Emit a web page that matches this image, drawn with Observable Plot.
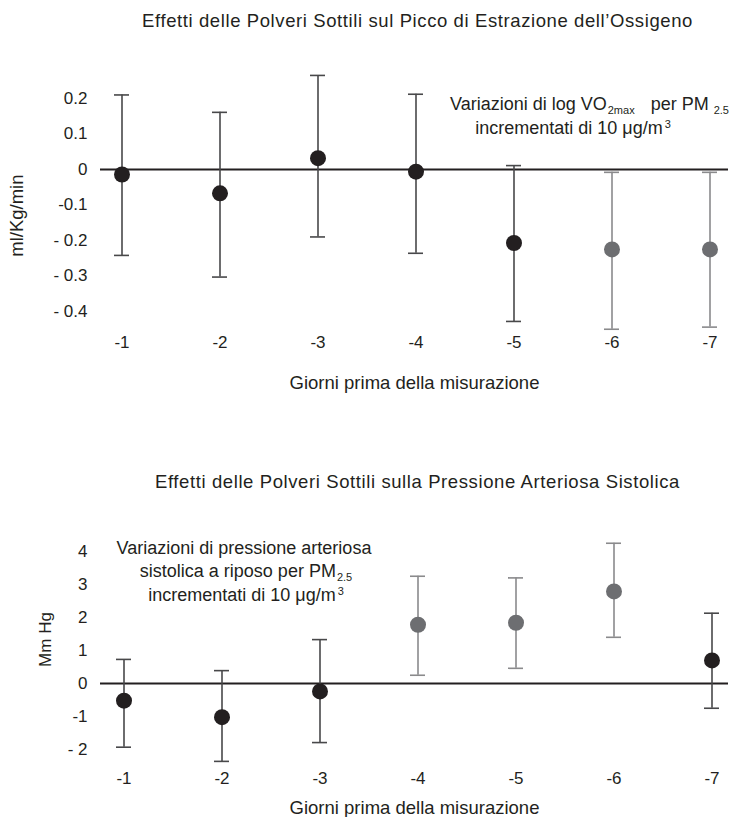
<!DOCTYPE html>
<html><head><meta charset="utf-8">
<script src="https://cdn.jsdelivr.net/npm/d3@7"></script>
<script src="https://cdn.jsdelivr.net/npm/@observablehq/plot@0.6"></script>
<style>
body{margin:0;background:#fff;}
#chart{position:relative;width:730px;height:817px;}
#chart svg{display:block;}
</style></head><body><div id="chart"></div>
<script>
// ---- data ----
const days = ["-1","-2","-3","-4","-5","-6","-7"];

const vo2Est = [-0.014, -0.067, 0.032, -0.006, -0.207, -0.225, -0.225];
const vo2Lo  = [-0.242, -0.303, -0.190, -0.236, -0.428, -0.450, -0.444];
const vo2Hi  = [0.210, 0.161, 0.265, 0.212, 0.011, -0.008, -0.008];
const vo2Sig = [false, false, false, false, false, true, true];
const vo2YTicks = [0.2, 0.1, 0, -0.1, -0.2, -0.3, -0.4];
const vo2YTickLabels = ["0.2", "0.1", "0", "-0.1", "- 0.2", "- 0.3", "- 0.4"];

const bpEst = [-0.52, -1.02, -0.24, 1.78, 1.84, 2.79, 0.70];
const bpLo  = [-1.93, -2.36, -1.79, 0.25, 0.46, 1.40, -0.75];
const bpHi  = [0.73, 0.39, 1.33, 3.25, 3.20, 4.25, 2.13];
const bpSig = [false, false, false, true, true, true, false];
const bpYTicks = [4, 3, 2, 1, 0, -1, -2];
const bpYTickLabels = ["4", "3", "2", "1", "0", "-1", "- 2"];

const title1 = "Effetti delle Polveri Sottili sul Picco di Estrazione dell\u2019Ossigeno";
const title2 = "Effetti delle Polveri Sottili sulla Pressione Arteriosa Sistolica";
const xLabel = "Giorni prima della misurazione";
const yLabel1 = "ml/Kg/min";
const yLabel2 = "Mm Hg";

// ---- style ----
const FONT = '"Liberation Sans", Arial, Helvetica, sans-serif';
const FS = 17;
const DARK = "#231f20", GRAY = "#6d6e71", WDARK = "#48484a", WGRAY = "#8a8a8c";

function rows(est, lo, hi, sig) {
  return days.map((day, i) => ({day, est: est[i], lo: lo[i], hi: hi[i], sig: sig[i]}));
}

function panel(o) {
  const data = rows(o.est, o.lo, o.hi, o.sig);
  const wc = d => d.sig ? WGRAY : WDARK;
  const fc = d => d.sig ? GRAY : DARK;
  const svg = Plot.plot({
    width: 730, height: o.height,
    marginLeft: 100, marginRight: 2, marginTop: o.mt, marginBottom: o.mb,
    style: {fontFamily: FONT, fontSize: FS + "px", color: DARK, background: "#fff", overflow: "visible"},
    x: {type: "band", domain: days, paddingInner: o.pi, paddingOuter: o.po, align: o.align},
    y: {domain: o.ydomain},
    marks: [
      Plot.ruleY([0], {stroke: DARK, strokeWidth: 2}),
      Plot.ruleX(data, {x: "day", y1: "lo", y2: "hi", stroke: wc, strokeWidth: 1.6}),
      Plot.tickY(data, {x: "day", y: "lo", stroke: wc, strokeWidth: 1.6}),
      Plot.tickY(data, {x: "day", y: "hi", stroke: wc, strokeWidth: 1.6}),
      Plot.dot(data, {x: "day", y: "est", r: 8, fill: fc, stroke: "none"}),
      Plot.axisY({ticks: o.yticks, tickFormat: d => o.ylabels[o.yticks.indexOf(d)], tickSize: 0, tickPadding: 13, fontSize: FS, label: null}),
      Plot.axisX({tickSize: 0, tickPadding: o.xpad, fontSize: FS, label: null}),
      Plot.text([o.title], {text: d => d, frameAnchor: "top", textAnchor: "middle", lineAnchor: "middle", dx: 3, dy: o.titleDy, fontSize: 18.5, fill: DARK}),
      Plot.text([xLabel], {text: d => d, frameAnchor: "bottom", textAnchor: "middle", lineAnchor: "middle", dy: o.xlabDy, fontSize: 18.5, fill: DARK}),
      Plot.text([o.ylab], {text: d => d, frameAnchor: "left", textAnchor: "middle", rotate: -90, lineAnchor: "middle", dx: o.ylabDx, dy: o.ylabDy, fontSize: o.ylabFs, fill: DARK})
    ]
  });
  d3.select(svg).selectAll("text").filter(function() { return this.textContent === o.title; })
    .style("letter-spacing", "0.6px");
  return svg;
}

// rich text helper for annotations with sub/superscripts
function rich(svg, x, y, anchor, parts) {
  const t = d3.select(svg).append("text")
    .attr("x", x).attr("y", y).attr("text-anchor", anchor)
    .attr("font-family", FONT).attr("font-size", 18).attr("fill", DARK);
  let shift = 0;
  parts.forEach(p => {
    const s = t.append("tspan").text(p.t);
    const target = p.sub ? 4 : p.sup ? -6 : 0;
    const dy = target - shift; shift = target;
    if (dy) s.attr("dy", dy);
    if (p.dx) s.attr("dx", p.dx);
    if (p.sub || p.sup) s.attr("font-size", 11);
  });
}

const chart = document.getElementById("chart");

const topSvg = panel({
  height: 410, mt: 62.5, mb: 81.25, ydomain: [-0.45, 0.3],
  est: vo2Est, lo: vo2Lo, hi: vo2Hi, sig: vo2Sig,
  pi: 0.848, po: 0.101, align: 0.575,
  yticks: vo2YTicks, ylabels: vo2YTickLabels,
  xpad: 7, title: title1, titleDy: -41.5, xlabDy: 54,
  ylab: yLabel1, ylabDx: -83, ylabDy: 19.5, ylabFs: 18.5
});
rich(topSvg, 450, 110, "start", [{t: "Variazioni di log VO"}, {t: "2max", sub: true, dx: 1}, {t: "per PM", dx: 16}, {t: "2.5", sub: true, dx: 5}]);
rich(topSvg, 573, 134, "middle", [{t: "incrementati di 10 \u03bcg/m"}, {t: "3", sup: true, dx: 2}]);
chart.appendChild(topSvg);

const botSvg = panel({
  height: 407, mt: 127.8, mb: 48.2, ydomain: [-2.6, 4.4],
  est: bpEst, lo: bpLo, hi: bpHi, sig: bpSig,
  pi: 0.8474, po: 0.118, align: 0.625,
  yticks: bpYTicks, ylabels: bpYTickLabels,
  xpad: 3, title: title2, titleDy: -55.8, xlabDy: 39.2,
  ylab: yLabel2, ylabDx: -55, ylabDy: -14.3, ylabFs: 17
});
rich(botSvg, 244, 144, "middle", [{t: "Variazioni di pressione arteriosa"}]);
rich(botSvg, 246, 167, "middle", [{t: "sistolica a riposo per PM"}, {t: "2.5", sub: true, dx: 1}]);
rich(botSvg, 246, 191, "middle", [{t: "incrementati di 10 \u03bcg/m"}, {t: "3", sup: true, dx: 2}]);
chart.appendChild(botSvg);
</script>
</body></html>
